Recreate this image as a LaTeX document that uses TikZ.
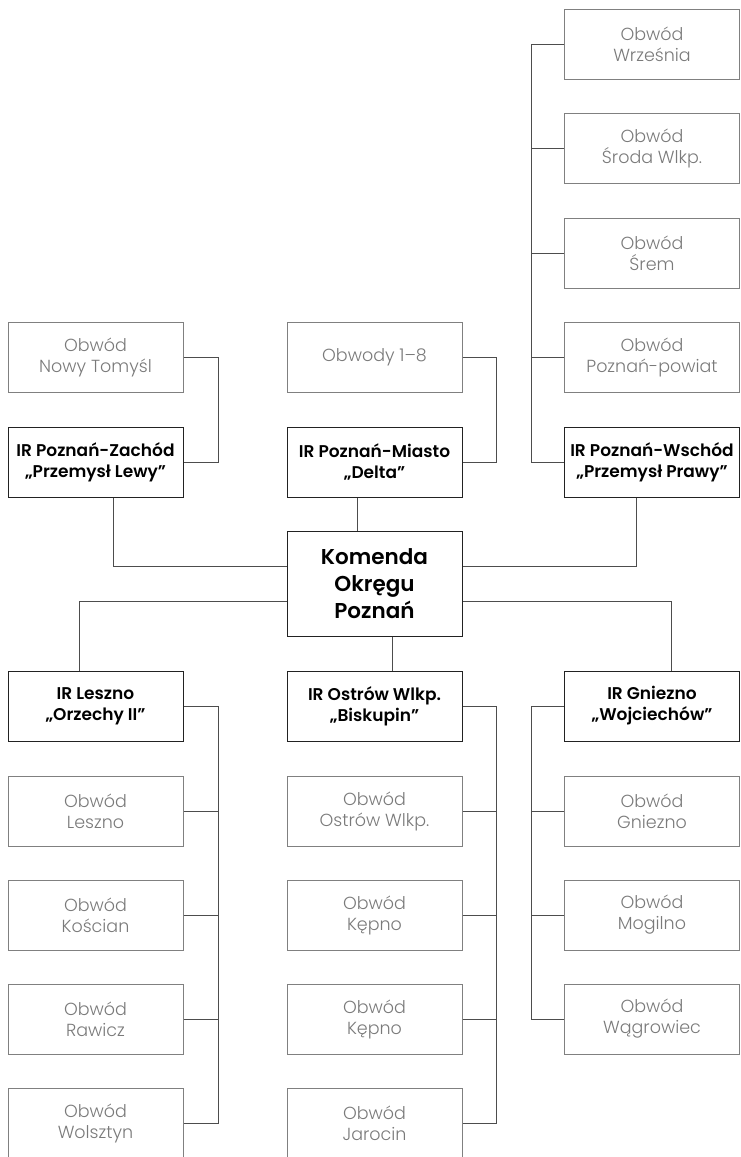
\documentclass[tikz,border=0pt]{standalone}
\usepackage{fontspec}
\setmainfont{Poppins}
\newfontfamily\lightf{Poppins Light}
\newfontfamily\boldf{Poppins SemiBold}
\definecolor{conn}{HTML}{4D4D4D}
\definecolor{obwline}{HTML}{808080}
\definecolor{obwtext}{HTML}{7A7A7A}
\definecolor{irline}{HTML}{222222}
\tikzset{
  box/.style={minimum width=175pt, minimum height=70pt, align=center, inner sep=0pt, line width=1pt},
  obw/.style={box, draw=obwline, text=obwtext, font=\lightf\fontsize{17.5}{21}\selectfont},
  ir/.style={box, draw=irline, text=black, font=\boldf\fontsize{17}{21}\selectfont},
  kom/.style={box, minimum height=105pt, draw=irline, text=black, font=\boldf\fontsize{21.5}{27}\selectfont},
  link/.style={draw=conn, line width=1pt}
}
\begin{document}
\begin{tikzpicture}[x=1pt, y=-1pt]
\useasboundingbox (0,0) rectangle (740,1157);
% top right column
\node[obw] (wrz) at (652,44) {Obwód\\Września};
\node[obw] (sro) at (652,148) {Obwód\\Środa Wlkp.};
\node[obw] (srem) at (652,253) {Obwód\\Śrem};
\node[obw] (ppow) at (652,357) {Obwód\\Poznań-powiat};
\node[ir] (wsch) at (652,462) {IR Poznań-Wschód\\„Przemysł Prawy”};
% top left & middle
\node[obw] (nt) at (95.5,357) {Obwód\\Nowy Tomyśl};
\node[ir] (zach) at (95.5,462) {IR Poznań-Zachód\\„Przemysł Lewy”};
\node[obw] (o18) at (374.5,357) {Obwody 1–8};
\node[ir] (mia) at (374.5,462) {IR Poznań-Miasto\\„Delta”};
% centre
\node[kom] (kom) at (374.5,583.5) {Komenda\\Okręgu\\Poznań};
% bottom
\node[ir] (lesz) at (95.5,706) {IR Leszno\\„Orzechy II”};
\node[ir] (ostr) at (374.5,706) {IR Ostrów Wlkp.\\„Biskupin”};
\node[ir] (gn) at (652,706) {IR Gniezno\\„Wojciechów”};
\node[obw] (ol) at (95.5,811) {Obwód\\Leszno};
\node[obw] (ok) at (95.5,915) {Obwód\\Kościan};
\node[obw] (or) at (95.5,1019) {Obwód\\Rawicz};
\node[obw] (ow) at (95.5,1123) {Obwód\\Wolsztyn};
\node[obw] (oo) at (374.5,811) {Obwód\\Ostrów Wlkp.};
\node[obw] (okep) at (374.5,915) {Obwód\\Kępno};
\node[obw] (okep2) at (374.5,1019) {Obwód\\Kępno};
\node[obw] (oj) at (374.5,1123) {Obwód\\Jarocin};
\node[obw] (ogn) at (652,811) {Obwód\\Gniezno};
\node[obw] (omo) at (652,915) {Obwód\\Mogilno};
\node[obw] (owa) at (652,1019) {Obwód\\Wągrowiec};
% connectors top
\draw[link] (nt.east) -- ++(35,0) |- (zach.east);
\draw[link] (o18.east) -- ++(34,0) |- (mia.east);
\draw[link] (wsch.west) -- ++(-32.5,0) |- (wrz.west);
\draw[link] (sro.west) -- ++(-32.5,0);
\draw[link] (srem.west) -- ++(-32.5,0);
\draw[link] (ppow.west) -- ++(-32.5,0);
% to centre
\draw[link] ([xshift=17.5]zach.south) |- ([yshift=17.5]kom.west);
\draw[link] ([xshift=-16]wsch.south) |- ([yshift=17.5]kom.east);
\draw[link] ([xshift=-17.5]mia.south) -- ([xshift=-17.5]kom.north);
\draw[link] ([yshift=-17.5]kom.west) -| ([xshift=-16.5]lesz.north);
\draw[link] ([yshift=-17.5]kom.east) -| ([xshift=19]gn.north);
\draw[link] ([xshift=17.5]kom.south) -- ([xshift=17.5]ostr.north);
% bottom connectors
\draw[link] (lesz.east) -- ++(35,0) |- (ow.east);
\draw[link] (ol.east) -- ++(35,0);
\draw[link] (ok.east) -- ++(35,0);
\draw[link] (or.east) -- ++(35,0);
\draw[link] (ostr.east) -- ++(34,0) |- (oj.east);
\draw[link] (oo.east) -- ++(34,0);
\draw[link] (okep.east) -- ++(34,0);
\draw[link] (okep2.east) -- ++(34,0);
\draw[link] (gn.west) -- ++(-32.5,0) |- (owa.west);
\draw[link] (ogn.west) -- ++(-32.5,0);
\draw[link] (omo.west) -- ++(-32.5,0);
\end{tikzpicture}
\end{document}
